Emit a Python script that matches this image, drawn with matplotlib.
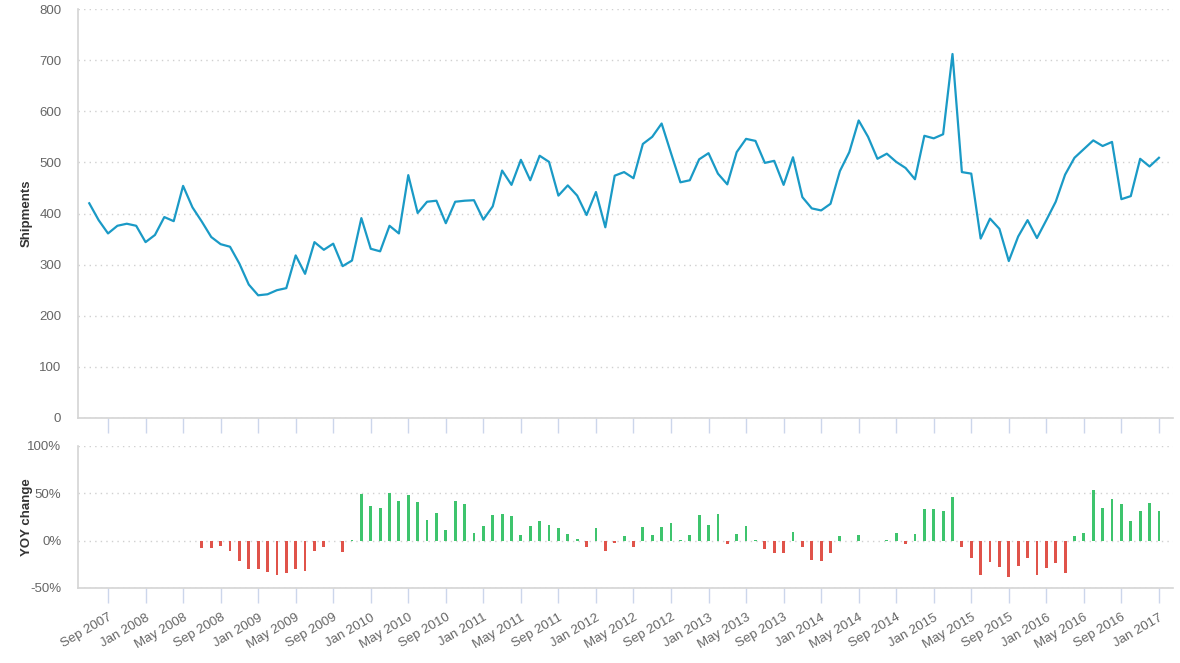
import numpy as np
import pandas as pd
import matplotlib
matplotlib.use("Agg")
import matplotlib.pyplot as plt

plt.rcParams['font.family'] = ['Liberation Sans', 'DejaVu Sans']

# monthly shipments, Jul 2007 .. Jan 2017
shipments = [
    420, 387, 361, 376, 380, 376,
    344, 358, 393, 385, 454, 412, 384, 354, 340, 335, 302, 261,
    240, 242, 250, 254, 318, 282, 344, 329, 341, 297, 308, 391,
    331, 326, 376, 361, 475, 401, 423, 425, 381, 423, 425, 426,
    388, 414, 484, 456, 505, 465, 513, 501, 435, 455, 435, 397,
    442, 373, 474, 481, 469, 536, 550, 576, 518, 461, 465, 506,
    518, 478, 457, 520, 546, 542, 499, 503, 456, 510, 432, 410,
    406, 419, 483, 520, 582, 550, 507, 517, 501, 489, 467, 552,
    547, 555, 712, 481, 478, 351, 390, 370, 307, 355, 387, 352,
    387, 423, 476, 509, 526, 543, 532, 540, 428, 434, 507, 492,
    509,
]

# year over year change in %, Jul 2008 .. Jan 2017
yoy = [
    -8, -8, -6, -11, -21, -30,
    -30, -33, -36, -34, -30, -32, -11, -7, 0, -12, 1, 49,
    37, 34, 50, 42, 48, 41, 22, 29, 11, 42, 39, 8,
    16, 27, 28, 26, 6, 15, 21, 17, 13, 7, 2, -7,
    13, -11, -2, 5, -7, 14, 6, 14, 19, 1, 6, 27,
    17, 28, -3, 7, 15, 1, -9, -13, -13, 9, -7, -20,
    -21, -13, 5, 0, 6, 0, 0, 1, 8, -4, 7, 33,
    33, 31, 46, -7, -18, -36, -23, -28, -38, -27, -18, -36,
    -29, -24, -34, 5, 8, 54, 35, 44, 39, 21, 31, 40,
    31,
]

months = pd.date_range('2007-07-01', periods=len(shipments), freq='MS')
yoy_start = len(shipments) - len(yoy)

x = np.arange(len(shipments))
x_yoy = x[yoy_start:]

tick_idx = x[2::4]
tick_labels = [months[i].strftime('%b %Y') for i in tick_idx]

line_color = '#1a9ac6'
up_color = '#3ec46d'
down_color = '#e0534a'
grid_color = '#d0d0d0'
axis_color = '#ccd6eb'
label_color = '#666666'

fig = plt.figure(figsize=(11.8, 6.63), dpi=100)
ax1 = fig.add_axes([78/1180, 1-418/663, 1095/1180, 409/663])
ax2 = fig.add_axes([78/1180, 1-588/663, 1095/1180, 142/663])

ax1.plot(x, shipments, color=line_color, lw=1.6, solid_joinstyle='round')
ax1.set_ylim(0, 800)
ax1.set_yticks(range(0, 801, 100))

bar_colors = [up_color if v >= 0 else down_color for v in yoy]
ax2.bar(x_yoy, yoy, width=0.3, color=bar_colors)
ax2.set_ylim(-50, 100)
ax2.set_yticks([-50, 0, 50, 100])
ax2.set_yticklabels(['-50%', '0%', '50%', '100%'])

for ax in (ax1, ax2):
    ax.set_xlim(-1.2, 115.5)
    ax.set_xticks(tick_idx)
    for s in ('top', 'right'):
        ax.spines[s].set_visible(False)
    ax.spines['left'].set_color('#d4d4d4')
    ax.spines['bottom'].set_color('#d4d4d4')
    ax.spines['left'].set_linewidth(1.2)
    ax.spines['bottom'].set_linewidth(1.2)
    ax.yaxis.grid(True, color=grid_color, linestyle=(0, (1, 3)), lw=1)
    ax.set_axisbelow(True)
    ax.tick_params(axis='y', length=0, pad=12, labelsize=9.5, labelcolor=label_color)
    ax.tick_params(axis='x', length=11, width=1, color=axis_color,
                   labelsize=9.5, labelcolor=label_color)

ax1.tick_params(axis='x', labelbottom=False)
ax2.set_xticklabels(tick_labels, rotation=30, ha='right', rotation_mode='anchor')
ax2.tick_params(axis='x', pad=6)

fig.text(27/1180, 1-213/663, 'Shipments', rotation=90, ha='center', va='center',
         fontsize=9.5, fontweight='bold', color='#333333')
fig.text(27/1180, 1-517/663, 'YOY change', rotation=90, ha='center', va='center',
         fontsize=9.5, fontweight='bold', color='#333333')

fig.savefig('out.png', dpi=100)
